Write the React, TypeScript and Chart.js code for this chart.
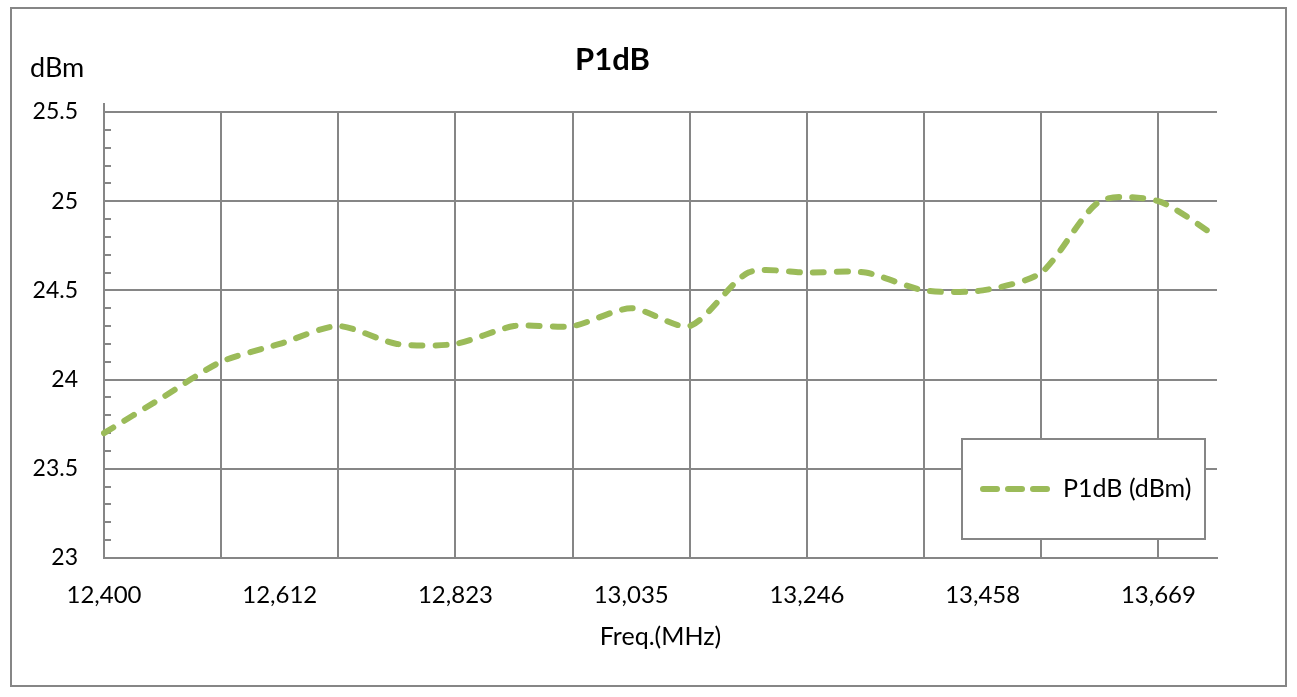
import React, { useEffect, useRef } from 'react';
import { Chart, registerables } from 'chart.js';

Chart.register(...registerables);

// ---- data ----
const freqLabels: string[] = [
  '12,400', '12,471', '12,541', '12,612', '12,682', '12,753', '12,823', '12,894', '12,964', '13,035',
  '13,105', '13,176', '13,246', '13,317', '13,387', '13,458', '13,528', '13,599', '13,669', '13,740',
];
const p1dbValues: number[] = [
  23.7, 23.9, 24.1, 24.2, 24.3, 24.2, 24.2, 24.3, 24.3, 24.4,
  24.3, 24.6, 24.6, 24.6, 24.5, 24.5, 24.6, 25.0, 25.0, 24.8,
];
const yMin = 23;
const yMax = 25.5;
const yMinorStep = 0.1;
const yMajorStep = 0.5;
const xLabelEvery = 3;
const xGridEvery = 2;

const chartTitle = 'P1dB';
const yUnit = 'dBm';
const xTitle = 'Freq.(MHz)';
const seriesName = 'P1dB (dBm)';

// ---- styles ----
const GRID = '#868686';
const LINE = '#9BBB59';
const FONT = 'Lato, "Open Sans", sans-serif';
const TRANSPARENT = 'rgba(0,0,0,0)';

const isMajor = (v: number) => Math.abs(v / yMajorStep - Math.round(v / yMajorStep)) < 1e-6;

const decorPlugin = {
  id: 'decor',
  beforeDatasetsDraw(chart: any) {
    const { ctx, chartArea: ca, scales } = chart;
    const y = scales.y;
    ctx.save();
    ctx.strokeStyle = GRID;
    ctx.lineWidth = 2;
    ctx.beginPath();
    ctx.moveTo(ca.left, ca.top - 9);
    ctx.lineTo(ca.left, ca.bottom);
    ctx.stroke();
    for (const t of y.ticks) {
      if (isMajor(t.value)) continue;
      const py = Math.round(y.getPixelForValue(t.value));
      ctx.beginPath();
      ctx.moveTo(ca.left, py);
      ctx.lineTo(ca.left + 7, py);
      ctx.stroke();
    }
    ctx.restore();
  },
  afterDraw(chart: any) {
    const { ctx, chartArea: ca } = chart;
    ctx.save();
    ctx.fillStyle = '#000';
    ctx.font = `bold 31px ${FONT}`;
    ctx.textAlign = 'center';
    ctx.textBaseline = 'alphabetic';
    ctx.fillText(chartTitle, 600.5, 61);
    ctx.font = `27px ${FONT}`;
    ctx.textAlign = 'left';
    ctx.fillText(yUnit, 18, 68);
    const bw = 243;
    const bh = 100;
    const bx = ca.right - 12 - bw;
    const by = ca.bottom - 19 - bh;
    ctx.fillStyle = '#fff';
    ctx.fillRect(bx, by, bw, bh);
    ctx.strokeStyle = GRID;
    ctx.lineWidth = 2;
    ctx.strokeRect(bx, by, bw, bh);
    const ly = by + bh / 2;
    ctx.strokeStyle = LINE;
    ctx.lineWidth = 6;
    ctx.lineCap = 'round';
    ctx.setLineDash([14, 11]);
    ctx.beginPath();
    ctx.moveTo(bx + 21, ly);
    ctx.lineTo(bx + 85, ly);
    ctx.stroke();
    ctx.setLineDash([]);
    ctx.fillStyle = '#000';
    ctx.font = `25px ${FONT}`;
    ctx.textBaseline = 'middle';
    ctx.textAlign = 'left';
    ctx.fillText(seriesName, bx + 101, ly);
    ctx.restore();
  },
};

export default function App() {
  const canvasRef = useRef<HTMLCanvasElement | null>(null);

  useEffect(() => {
    const canvas = canvasRef.current;
    if (!canvas) return;
    const chart = new Chart(canvas, {
      type: 'line',
      data: {
        labels: freqLabels,
        datasets: [
          {
            label: seriesName,
            data: p1dbValues,
            borderColor: LINE,
            backgroundColor: LINE,
            borderWidth: 6,
            borderDash: [11, 13],
            borderCapStyle: 'round',
            pointRadius: 0,
            tension: 0.25,
            fill: false,
          },
        ],
      },
      options: {
        animation: false,
        responsive: false,
        devicePixelRatio: 1,
        layout: { padding: { left: 0, top: 103, right: 68, bottom: 0 } },
        plugins: {
          legend: { display: false },
          title: { display: false },
          tooltip: { enabled: false },
        },
        scales: {
          x: {
            type: 'category',
            offset: false,
            afterFit: (scale: any) => {
              scale.height = 127;
            },
            grid: {
              drawTicks: false,
              lineWidth: 2,
              color: (c: any) => (c.index % xGridEvery === 0 ? GRID : TRANSPARENT),
            },
            border: { display: true, color: GRID, width: 2 },
            ticks: {
              autoSkip: false,
              maxRotation: 0,
              minRotation: 0,
              padding: 23,
              color: '#000',
              font: { family: FONT, size: 24 },
              callback: (_v: any, i: number) => (i % xLabelEvery === 0 ? freqLabels[i] : ''),
            },
            title: {
              display: true,
              text: xTitle,
              color: '#000',
              font: { family: FONT, size: 25 },
              padding: { top: 0, bottom: 33 },
            },
          },
          y: {
            type: 'linear',
            min: yMin,
            max: yMax,
            afterFit: (scale: any) => {
              scale.width = 92;
            },
            grid: {
              drawTicks: false,
              lineWidth: 2,
              color: (c: any) => (c.tick && isMajor(c.tick.value) ? GRID : TRANSPARENT),
            },
            border: { display: true, color: GRID, width: 2 },
            ticks: {
              stepSize: yMinorStep,
              autoSkip: false,
              padding: 26,
              color: '#000',
              font: { family: FONT, size: 23 },
              callback: (v: any) => (isMajor(Number(v)) ? String(parseFloat(Number(v).toFixed(1))) : ''),
            },
          },
        },
      },
      plugins: [decorPlugin],
    });
    return () => chart.destroy();
  }, []);

  return (
    <div
      style={{
        position: 'absolute',
        left: 10,
        top: 7,
        width: 1277,
        height: 680,
        border: `2px solid ${GRID}`,
        boxSizing: 'border-box',
        background: '#fff',
      }}
    >
      <canvas ref={canvasRef} width={1273} height={676} style={{ display: 'block' }} />
    </div>
  );
}
